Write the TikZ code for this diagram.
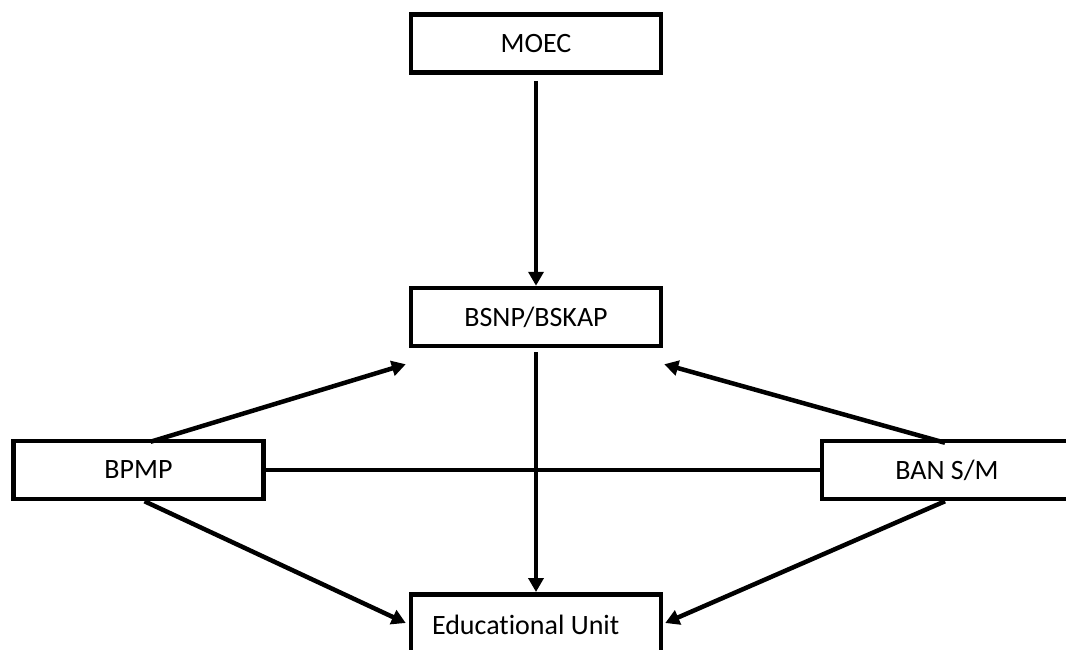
\documentclass[tikz,border=0pt]{standalone}
\usepackage{fontspec}
\setmainfont{Carlito}[Ligatures=NoCommon]
\usepackage{tikz}
\usetikzlibrary{arrows.meta}

\tikzset{
    box/.style={draw, line width=4.5pt, minimum width=250pt, minimum height=58pt,
        inner sep=0pt, font=\fontsize{28}{34}\selectfont},
    link/.style={line width=4.5pt},
    arr/.style={link, -{Triangle[length=14pt,width=15pt]}}
}

\begin{document}
\begin{tikzpicture}[x=1pt, y=-1pt]
    % параметры
    \def\W{1066}    % ширина рисунка
    \def\H{649}     % высота рисунка

    % рамка рисунка
    \useasboundingbox (0,0) rectangle (\W,\H);
    \clip (0,0) rectangle (\W,\H);

    % блоки
    \node[box] (moec) at (536,43.5) {MOEC};
    \node[box] (bsnp) at (536,317) {BSNP/BSKAP};
    \node[box] (bpmp) at (138.5,470) {BPMP};
    \node[box] (ban)  at (947,470) {BAN S/M};
    % нижний блок уходит за край рисунка
    \node[box, anchor=north, text height=40pt, text depth=40pt,
        text width=208pt, align=flush left] (edu) at (536,592) {Educational Unit};

    % связи
    \draw[arr, shorten <=6pt] (moec.south) -- (bsnp.north);
    \draw[arr, shorten <=4pt] (bsnp.south) -- (edu.north);
    \draw[link] (bpmp.east) -- (ban.west);

    \draw[arr] ([xshift=12pt,yshift=-3pt]bpmp.north) -- ([xshift=-3pt,yshift=-16pt]bsnp.south west);
    \draw[arr] ([xshift=-2pt,yshift=-4pt]ban.north) -- ([xshift=1pt,yshift=-16pt]bsnp.south east);
    \draw[arr] ([xshift=6pt]bpmp.south) -- ([xshift=-3pt,yshift=-31pt]edu.north west);
    \draw[arr] ([xshift=-2pt]ban.south) -- ([xshift=2pt,yshift=-31pt]edu.north east);
\end{tikzpicture}
\end{document}
